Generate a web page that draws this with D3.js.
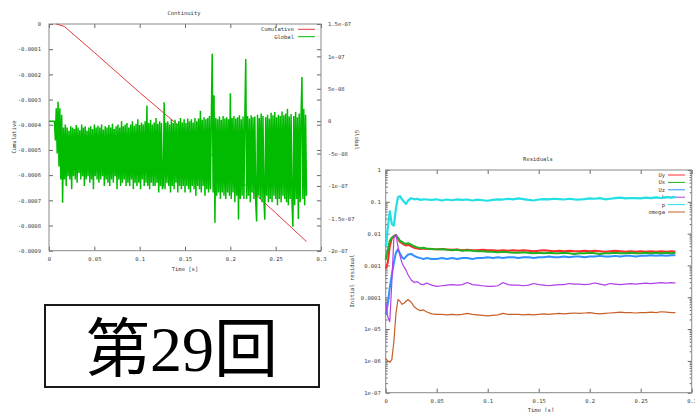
<!DOCTYPE html>
<html>
<head>
<meta charset="utf-8">
<script src="https://cdnjs.cloudflare.com/ajax/libs/d3/7.8.5/d3.min.js"></script>
<style>
  body { margin: 0; background: #fff; }
  svg text { font-family: "DejaVu Sans Mono", monospace; font-size: 5.5px; fill: #3a3a3a; }
  .axis line { stroke: #666; }
  .frame { fill: none; stroke: #888; stroke-width: 1; }
  .banner text { font-family: "Liberation Serif", "Noto Sans CJK JP", serif; font-size: 64px; fill: #000; }
</style>
</head>
<body>
<div id="chart"></div>
<script>
// ---- Continuity plot data ----
var contXTicks = [0, 0.05, 0.1, 0.15, 0.2, 0.25, 0.3];
var contXLabels = ["0", "0.05", "0.1", "0.15", "0.2", "0.25", "0.3"];
var cumTicks = [0, -0.0001, -0.0002, -0.0003, -0.0004, -0.0005, -0.0006, -0.0007, -0.0008, -0.0009];
var cumLabels = ["0", "-0.0001", "-0.0002", "-0.0003", "-0.0004", "-0.0005", "-0.0006", "-0.0007", "-0.0008", "-0.0009"];
var globTicks = [1.5e-7, 1e-7, 5e-8, 0, -5e-8, -1e-7, -1.5e-7, -2e-7];
var globLabels = ["1.5e-07", "1e-07", "5e-08", "0", "-5e-08", "-1e-07", "-1.5e-07", "-2e-07"];
var contLegend = ["Cumulative", "Global"];

// Cumulative continuity error
var cumTimes  = [0.008, 0.012, 0.017, 0.05, 0.1, 0.15, 0.2, 0.25, 0.284];
var cumValues = [0, -0.000004, -0.00001, -0.000113, -0.000272, -0.000425, -0.000585, -0.00075, -0.000864];

// Global continuity error, sampled every globalStep seconds, in units of 1e-8
var globalStep = 0.001;
var globalValues = [
  0, 0, 0, 0, 0, 0,
  0, -3, 2, -5, 3, -7, 2, -9, 1, -12.6,
  -1, -9, -0.5, -10, -1, -8.5, -1.5, -9, -0.8, -10.5,
  -1, -8.5, -1.2, -9, -0.6, -9.5, -1, -8, -1.4, -9,
  -0.5, -8.5, -1, -10, -0.8, -9, -1.5, -8.5, -1, -9.5,
  -0.8, -9, -1.2, -10.5, -0.5, -8.5, -1, -9, -0.7, -9.5,
  -1, -9, -0.5, -8.5, -1.3, -10, -0.8, -9, -1, -9.5,
  -0.6, -10, -1, -9, -0.4, -9.5, -1.2, -8.5, -0.8, -10.5,
  -0.5, -9, -1, -10, 0, -9.5, -0.8, -9, -0.5, -10,
  -0.3, -9.5, -1, -10, -0.5, -9, 0, -10.5, -0.7, -9.5,
  -0.4, -10, 0.3, -9.5, -0.6, -10.5, -0.2, -9, -0.5, -10,
  0, -9.5, 2.4, -10, -0.3, -10.5, 0.2, -9.5, -0.5, -10,
  -0.2, -10, 0.5, -9.5, -0.4, -11, 0, -10, -0.3, -10.5,
  -10, 2.9, -10.5, -0.2, -9.5, 0, -10, -0.5, -11, 0.3,
  -10, -0.3, -10.5, 0.2, -9.5, -0.4, -11, 0, -10, 0.5,
  -10.5, -0.2, -10, 0.3, -11, -0.3, -10, 0.4, -10.5, 0,
  -11, 0.3, -10, -0.2, -10.5, 0.5, -11.5, 0, -10, 0.4,
  -10.5, 1.6, -11, 0.2, -10, 0.6, -11.5, 0.3, -10.5, 0.5,
  -11, 0.8, -10.5, 0.2, 10.4, -11, 4, -15.7, 0.5, -11.5,
  0.3, -11, 0.7, -12, 0.2, -11, 0.8, -11.5, 0.4, -12,
  0.6, -11, 0.3, -11.5, 4.3, -12, 0.5, -11, 0.8, -12.5,
  0.4, -11.5, 0.6, -15.2, 0.9, -12, 0.3, -11.5, 0.7, -12,
  0.5, 9.6, -12, 0.8, -11.5, 0.4, -12.5, 0.9, -11, 0.6,
  -12, 0.7, -12.5, -15.5, 1, -11.5, 0.5, -12, 1.2, -12.5,
  0.8, -12, -15.2, 0.6, -11.5, 1, -12.5, 0.4, -12, 1.3,
  -12.5, 0.9, -11.5, 1.4, -12, 0.6, -13, 1, -12, 0.8,
  -12.5, 1.5, -11.5, 0.9, -12, 1.2, -12.5, 1.9, -13, 0.7,
  -12, 1.1, -12.5, -16.3, 0.8, -13, 1.4, -12, 0.6, -15.1,
  1.2, -12.5, 0.9, 6.8, -12, 1.9, -13, 1, -11.5
];

// ---- Residuals plot data ----
var resXTicks = [0, 0.05, 0.1, 0.15, 0.2, 0.25, 0.3];
var resXLabels = ["0", "0.05", "0.1", "0.15", "0.2", "0.25", "0.3"];
var resYTicks = [1, 0.1, 0.01, 0.001, 0.0001, 1e-5, 1e-6, 1e-7];
var resYLabels = ["1", "0.1", "0.01", "0.001", "0.0001", "1e-05", "1e-06", "1e-07"];
var resNames = ["Uy", "Ux", "Uz", "k", "p", "omega"];

var resTimes = [
  0, 0.002, 0.004, 0.006, 0.008, 0.010, 0.012, 0.014, 0.016, 0.018, 0.020, 0.022,
  0.025, 0.028, 0.031, 0.034, 0.037, 0.040,
  0.045, 0.050, 0.055, 0.060, 0.065, 0.070, 0.075, 0.080, 0.085, 0.090,
  0.095, 0.100, 0.105, 0.110, 0.115, 0.120, 0.125, 0.130, 0.135, 0.140,
  0.145, 0.150, 0.155, 0.160, 0.165, 0.170, 0.175, 0.180, 0.185, 0.190,
  0.195, 0.200, 0.205, 0.210, 0.215, 0.220, 0.225, 0.230, 0.235, 0.240,
  0.245, 0.250, 0.255, 0.260, 0.265, 0.270, 0.275, 0.280, 0.284
];
var resUy = [
  0.0008, 0.0012, 0.004, 0.007, 0.0085, 0.009, 0.007, 0.0055, 0.005, 0.0045, 0.0042, 0.0045,
  0.004, 0.0036, 0.0034, 0.0033, 0.0034, 0.0033,
  0.0033, 0.0032, 0.0033, 0.0032, 0.0031, 0.0032, 0.003, 0.0031, 0.003, 0.003,
  0.0031, 0.003, 0.003, 0.0029, 0.003, 0.0029, 0.003, 0.0029, 0.003, 0.0029,
  0.0028, 0.0029, 0.003, 0.0029, 0.0028, 0.0029, 0.0028, 0.0029, 0.0028, 0.0028,
  0.0029, 0.0028, 0.0029, 0.0028, 0.0027, 0.0028, 0.0029, 0.0028, 0.0027, 0.0028,
  0.0027, 0.0028, 0.0027, 0.0028, 0.0027, 0.0028, 0.0027, 0.0028, 0.0027
];
var resUx = [
  0.0015, 0.003, 0.006, 0.0075, 0.008, 0.009, 0.0075, 0.006, 0.0055, 0.005, 0.0048, 0.005,
  0.0045, 0.004, 0.0037, 0.0035, 0.0036, 0.0034,
  0.0033, 0.0032, 0.0033, 0.0031, 0.003, 0.0031, 0.0029, 0.003, 0.0029, 0.0028,
  0.0028, 0.0027, 0.0027, 0.0026, 0.0027, 0.0026, 0.0025, 0.0025, 0.0026, 0.0025,
  0.0024, 0.0025, 0.0024, 0.0025, 0.0024, 0.0024, 0.0025, 0.0024, 0.0023, 0.0024,
  0.0024, 0.0025, 0.0024, 0.0023, 0.0024, 0.0024, 0.0025, 0.0024, 0.0024, 0.0025,
  0.0024, 0.0024, 0.0025, 0.0024, 0.0025, 0.0024, 0.0025, 0.0024, 0.0025
];
var resUz = [
  3e-5, 6e-5, 2e-4, 5e-4, 0.0012, 0.0025, 0.0032, 0.0024, 0.0018, 0.0016, 0.0019, 0.0022,
  0.0023, 0.002, 0.0018, 0.0017, 0.0016, 0.0017,
  0.0016, 0.0016, 0.0017, 0.0016, 0.0017, 0.0016, 0.0017, 0.0017, 0.0016, 0.0017,
  0.0017, 0.0018, 0.0017, 0.0018, 0.0017, 0.0018, 0.0018, 0.0017, 0.0018, 0.0018,
  0.0017, 0.0018, 0.0018, 0.0019, 0.0018, 0.0018, 0.0019, 0.0018, 0.0019, 0.0019,
  0.0018, 0.0019, 0.0019, 0.002, 0.0019, 0.0019, 0.002, 0.0019, 0.002, 0.002,
  0.0019, 0.002, 0.002, 0.0021, 0.002, 0.0021, 0.002, 0.0021, 0.0021
];
var resK = [
  7e-5, 2.5e-5, 1.7e-5, 3e-4, 0.007, 0.0095, 0.004, 0.002, 0.0012, 0.0009, 0.0007, 0.0005,
  0.00035, 0.00029, 0.00031, 0.00026, 0.00025, 0.00028,
  0.00024, 0.00022, 0.00023, 0.00024, 0.00025, 0.00024, 0.00025, 0.00029, 0.00025, 0.00024,
  0.00023, 0.00022, 0.00022, 0.00023, 0.00029, 0.00025, 0.00024, 0.00024, 0.00023, 0.00024,
  0.00027, 0.00025, 0.00024, 0.00023, 0.00024, 0.00025, 0.00025, 0.00027, 0.00026, 0.00026,
  0.00025, 0.00026, 0.00028, 0.00026, 0.00024, 0.00027, 0.00026, 0.00025, 0.00026, 0.00027,
  0.00026, 0.00027, 0.00028, 0.00027, 0.00028, 0.00029, 0.00028, 0.00029, 0.00028
];
var resP = [
  0.004, 0.015, 0.05, 0.02, 0.018, 0.06, 0.14, 0.15, 0.12, 0.1, 0.085, 0.11,
  0.13, 0.12, 0.125, 0.115, 0.12, 0.118,
  0.115, 0.12, 0.11, 0.118, 0.112, 0.12, 0.115, 0.118, 0.11, 0.117,
  0.112, 0.108, 0.115, 0.12, 0.118, 0.125, 0.12, 0.128, 0.122, 0.115,
  0.11, 0.118, 0.122, 0.12, 0.125, 0.122, 0.118, 0.125, 0.12, 0.118,
  0.122, 0.128, 0.125, 0.13, 0.12, 0.125, 0.13, 0.135, 0.128, 0.132,
  0.13, 0.128, 0.135, 0.13, 0.138, 0.132, 0.14, 0.135, 0.14
];
var resOmega = [
  1.2e-6, 1e-6, 9e-7, 1.1e-6, 4e-6, 3e-5, 8.5e-5, 7.5e-5, 6e-5, 6.5e-5, 7.5e-5, 8.5e-5,
  7e-5, 5e-5, 4.2e-5, 3.8e-5, 4e-5, 3.5e-5,
  3e-5, 2.9e-5, 2.9e-5, 2.8e-5, 2.9e-5, 2.8e-5, 2.9e-5, 3.1e-5, 2.9e-5, 2.8e-5,
  2.7e-5, 2.6e-5, 2.7e-5, 2.8e-5, 3.1e-5, 2.9e-5, 2.9e-5, 2.9e-5, 2.8e-5, 2.9e-5,
  2.8e-5, 2.9e-5, 3e-5, 2.9e-5, 3e-5, 3.1e-5, 3e-5, 3.1e-5, 3.2e-5, 3.1e-5,
  3.2e-5, 3.3e-5, 3.1e-5, 3e-5, 3.1e-5, 3.2e-5, 3.3e-5, 3.4e-5, 3.3e-5, 3.3e-5,
  3.2e-5, 3.3e-5, 3.3e-5, 3.4e-5, 3.3e-5, 3.5e-5, 3.4e-5, 3.3e-5, 3.3e-5
];
var resSeries = [resUy, resUx, resUz, resK, resP, resOmega];

var bannerText = "第29回";

// ---- Drawing ----
var svg = d3.select("#chart").append("svg")
    .attr("width", 695)
    .attr("height", 412);

function pick(labels) {
  return function(d, i) { return labels[i]; };
}
function noDomain(g) { g.select(".domain").remove(); }

// ===== Continuity =====
var cont = {left: 49, right: 321, top: 24, bottom: 250.7};
var cx = d3.scaleLinear().domain([0, 0.3]).range([cont.left, cont.right]);
var cy = d3.scaleLinear().domain([-0.0009, 0]).range([cont.bottom, cont.top]);
var cy2 = d3.scaleLinear().domain([-2e-7, 1.5e-7]).range([cont.bottom, cont.top]);

var cg = svg.append("g").attr("class", "continuity");

cg.append("g").attr("class", "axis")
    .attr("transform", "translate(0," + cont.bottom + ")")
    .call(d3.axisBottom(cx).tickValues(contXTicks).tickFormat(pick(contXLabels))
      .tickSizeInner(-4).tickSizeOuter(0).tickPadding(6))
    .call(noDomain);
cg.append("g").attr("class", "axis")
    .attr("transform", "translate(0," + cont.top + ")")
    .call(d3.axisTop(cx).tickValues(contXTicks).tickFormat("").tickSizeInner(-4).tickSizeOuter(0))
    .call(noDomain);
cg.append("g").attr("class", "axis")
    .attr("transform", "translate(" + cont.left + ",0)")
    .call(d3.axisLeft(cy).tickValues(cumTicks).tickFormat(pick(cumLabels))
      .tickSizeInner(-4).tickSizeOuter(0).tickPadding(8))
    .call(noDomain);
// left ticks mirrored on the right border
cg.append("g").attr("class", "axis")
    .attr("transform", "translate(" + cont.right + ",0)")
    .call(d3.axisRight(cy).tickValues(cumTicks).tickFormat("").tickSizeInner(-4).tickSizeOuter(0))
    .call(noDomain);
cg.append("g").attr("class", "axis")
    .attr("transform", "translate(" + cont.right + ",0)")
    .call(d3.axisRight(cy2).tickValues(globTicks).tickFormat(pick(globLabels))
      .tickSizeInner(-4).tickSizeOuter(0).tickPadding(7))
    .call(noDomain);

cg.selectAll(".axis text").attr("font-size", null).attr("font-family", null);

cg.append("rect").attr("class", "frame")
    .attr("x", cont.left).attr("y", cont.top)
    .attr("width", cont.right - cont.left).attr("height", cont.bottom - cont.top);

// titles
cg.append("text").attr("x", 184).attr("y", 15).attr("text-anchor", "middle").text("Continuity");
cg.append("text").attr("x", 185).attr("y", 271).attr("text-anchor", "middle").text("Time [s]");
cg.append("text").attr("transform", "translate(16,137) rotate(-90)")
    .attr("text-anchor", "middle").text("Cumulative");
cg.append("text").attr("transform", "translate(355,140) rotate(90)")
    .attr("text-anchor", "middle").text("Global");

// legend
var contColors = ["#e23a3a", "#00bb00"];
contLegend.forEach(function(name, i) {
  var ly = 29.3 + i * 7.4;
  cg.append("text").attr("x", 294).attr("y", ly + 2).attr("text-anchor", "end").text(name);
  cg.append("line").attr("x1", 298).attr("x2", 315).attr("y1", ly).attr("y2", ly)
      .attr("stroke", contColors[i]).attr("stroke-width", 1);
});

// series
var cumData = cumTimes.map(function(t, i) { return {t: t, v: cumValues[i]}; });
var globData = globalValues.map(function(v, i) { return {t: i * globalStep, v: v * 1e-8}; });

cg.append("path")
    .datum(cumData)
    .attr("fill", "none")
    .attr("stroke", contColors[0])
    .attr("stroke-width", 1)
    .attr("d", d3.line().x(function(d) { return cx(d.t); }).y(function(d) { return cy(d.v); }));

cg.append("path")
    .datum(globData)
    .attr("fill", "none")
    .attr("stroke", contColors[1])
    .attr("stroke-width", 1.5)
    .attr("stroke-linejoin", "bevel")
    .attr("d", d3.line().x(function(d) { return cx(d.t); }).y(function(d) { return cy2(d.v); }));

// ===== Residuals =====
var res = {left: 385.7, right: 691.7, top: 170, bottom: 392.7};
var rx = d3.scaleLinear().domain([0, 0.3]).range([res.left, res.right]);
var ry = d3.scaleLog().domain([1e-7, 1]).range([res.bottom, res.top]);
var minorTicks = ry.ticks().filter(function(d) {
  return Math.abs(Math.log10(d) - Math.round(Math.log10(d))) > 1e-6;
});

var rg = svg.append("g").attr("class", "residuals");

rg.append("g").attr("class", "axis")
    .attr("transform", "translate(0," + res.bottom + ")")
    .call(d3.axisBottom(rx).tickValues(resXTicks).tickFormat(pick(resXLabels))
      .tickSizeInner(-4).tickSizeOuter(0).tickPadding(6))
    .call(noDomain);
rg.append("g").attr("class", "axis")
    .attr("transform", "translate(0," + res.top + ")")
    .call(d3.axisTop(rx).tickValues(resXTicks).tickFormat("").tickSizeInner(-4).tickSizeOuter(0))
    .call(noDomain);
rg.append("g").attr("class", "axis")
    .attr("transform", "translate(" + res.left + ",0)")
    .call(d3.axisLeft(ry).tickValues(resYTicks).tickFormat(pick(resYLabels))
      .tickSizeInner(-4).tickSizeOuter(0).tickPadding(5))
    .call(noDomain);
rg.append("g").attr("class", "axis")
    .attr("transform", "translate(" + res.left + ",0)")
    .call(d3.axisLeft(ry).tickValues(minorTicks).tickFormat("").tickSizeInner(-2).tickSizeOuter(0))
    .call(noDomain);
rg.append("g").attr("class", "axis")
    .attr("transform", "translate(" + res.right + ",0)")
    .call(d3.axisRight(ry).tickValues(resYTicks).tickFormat("").tickSizeInner(-4).tickSizeOuter(0))
    .call(noDomain);
rg.append("g").attr("class", "axis")
    .attr("transform", "translate(" + res.right + ",0)")
    .call(d3.axisRight(ry).tickValues(minorTicks).tickFormat("").tickSizeInner(-2).tickSizeOuter(0))
    .call(noDomain);

rg.selectAll(".axis text").attr("font-size", null).attr("font-family", null);

rg.append("rect").attr("class", "frame")
    .attr("x", res.left).attr("y", res.top)
    .attr("width", res.right - res.left).attr("height", res.bottom - res.top);

rg.append("text").attr("x", 538).attr("y", 161).attr("text-anchor", "middle").text("Residuals");
rg.append("text").attr("x", 541).attr("y", 412).attr("text-anchor", "middle").text("Time [s]");
rg.append("text").attr("transform", "translate(354,281) rotate(-90)")
    .attr("text-anchor", "middle").text("Initial residual");

// legend first, so the data lines run over it like in gnuplot
var resColors = ["#ff2a2a", "#22b022", "#3090ff", "#b040e8", "#20e0e6", "#c8602a"];
var resWidths = [2, 2, 2, 1.2, 2.2, 1.2];
resNames.forEach(function(name, i) {
  var ly = 175 + i * 7.4;
  rg.append("text").attr("x", 665).attr("y", ly + 2).attr("text-anchor", "end").text(name);
  rg.append("line").attr("x1", 668).attr("x2", 685).attr("y1", ly).attr("y2", ly)
      .attr("stroke", resColors[i]).attr("stroke-width", 1);
});

var resLine = d3.line()
    .x(function(d) { return rx(d.t); })
    .y(function(d) { return ry(d.v); });

resSeries.forEach(function(vals, i) {
  var data = resTimes.map(function(t, j) { return {t: t, v: vals[j]}; });
  rg.append("path")
      .datum(data)
      .attr("fill", "none")
      .attr("stroke", resColors[i])
      .attr("stroke-width", resWidths[i])
      .attr("stroke-linejoin", "round")
      .attr("d", resLine);
});

// ===== Banner =====
var bg = svg.append("g").attr("class", "banner");
bg.append("rect")
    .attr("x", 45).attr("y", 305).attr("width", 274).attr("height", 82)
    .attr("fill", "none").attr("stroke", "#1a1a1a").attr("stroke-width", 2);
bg.append("text")
    .attr("x", 182).attr("y", 371)
    .attr("text-anchor", "middle")
    .text(bannerText);
</script>
</body>
</html>
